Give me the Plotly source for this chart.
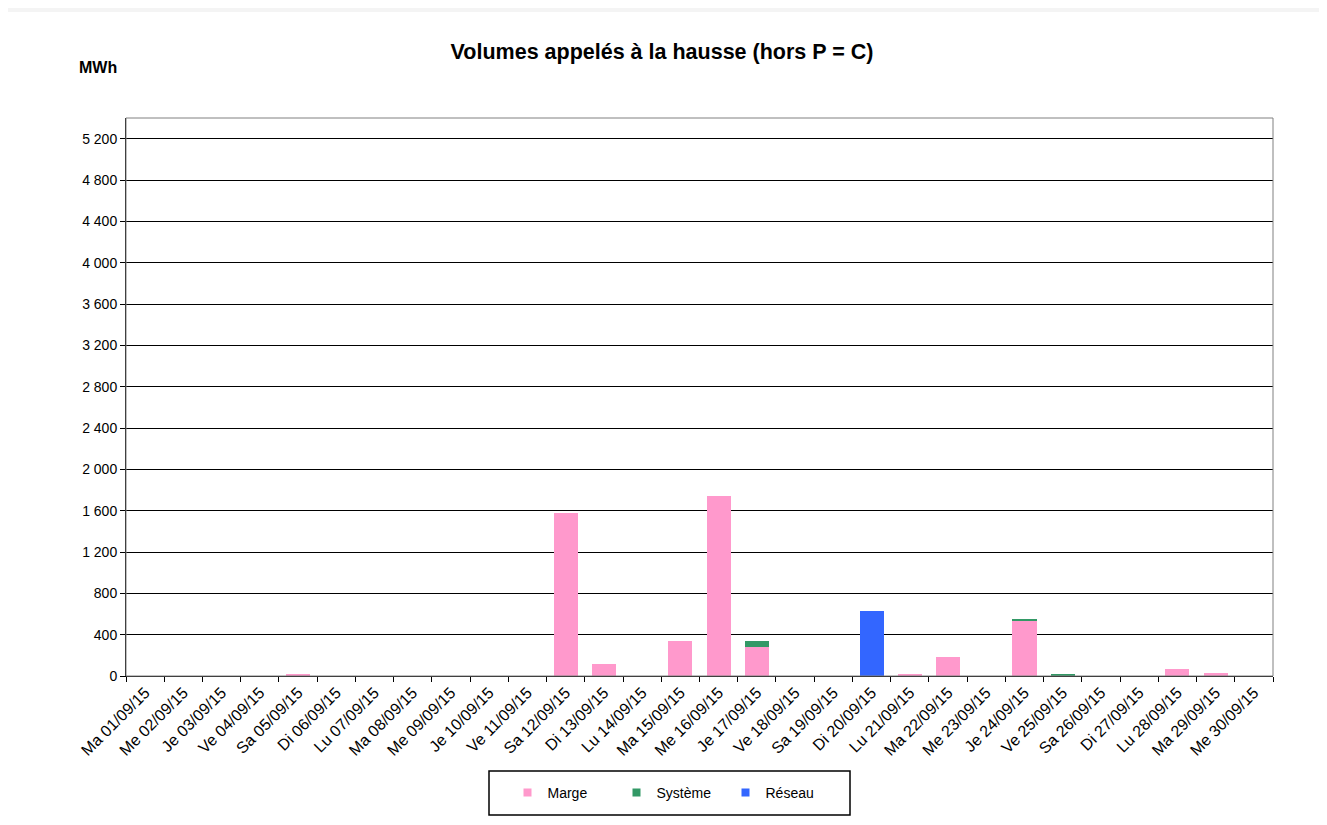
import plotly.graph_objects as go

day_names = ["Ma", "Me", "Je", "Ve", "Sa", "Di", "Lu"]
days = [f"{day_names[i % 7]} {i + 1:02d}/09/15" for i in range(30)]

marge = [0, 0, 0, 0, 10, 0, 0, 0, 0, 0, 0, 1580, 120, 0, 340, 1745, 280, 0, 0, 0,
         15, 180, 0, 540, 0, 0, 0, 65, 30, 0]
systeme = [0, 0, 0, 0, 0, 0, 0, 0, 0, 0, 0, 0, 0, 0, 0, 0, 60, 0, 0, 0,
           0, 0, 0, 15, 15, 0, 0, 0, 0, 0]
reseau = [0, 0, 0, 0, 0, 0, 0, 0, 0, 0, 0, 0, 0, 0, 0, 0, 0, 0, 0, 630,
          0, 0, 0, 0, 0, 0, 0, 0, 0, 0]

series = [("Marge", marge, "#ff99cc"), ("Système", systeme, "#339966"), ("Réseau", reseau, "#3366ff")]

# The page body has an 8px margin; figure coordinates are page coordinates minus 8.
OFF = 8
W, H = 1327 - OFF, 825 - OFF
L, R, T, B = 126, 1273, 118, 676  # plot area in page coordinates


def px(x):
    return (x - L) / (R - L)


def py(y):
    return (B - y) / (B - T)


fig = go.Figure()
for name, vals, col in series:
    fig.add_trace(go.Bar(x=days, y=vals, name=name, showlegend=False,
                         marker=dict(color=col, line=dict(width=0))))
for name, vals, col in series:
    fig.add_trace(go.Scatter(x=[None], y=[None], name=name, mode="markers",
                             marker=dict(symbol="square", size=8, color=col)))

fig.update_layout(
    width=W, height=H,
    barmode="stack", bargap=0.37,
    margin=dict(l=L - OFF, r=W - (R - OFF), t=T - OFF, b=H - (B - OFF), pad=0),
    paper_bgcolor="#f4f4f4", plot_bgcolor="white",
    separators=", ",
    font=dict(family="Liberation Sans, Arial", size=12, color="black"),
    title=dict(text="<b>Volumes appelés à la hausse (hors P = C)</b>", x=px(662), xanchor="center",
               xref="paper", y=1 - (51 - OFF) / H, yanchor="middle", font=dict(size=21.5)),
    showlegend=True,
    legend=dict(orientation="h", x=px(671), xanchor="center", y=py(793), yanchor="middle",
                borderwidth=0, bgcolor="rgba(0,0,0,0)", traceorder="normal",
                font=dict(size=14), entrywidth=64, itemwidth=30),
    shapes=[
        dict(type="rect", xref="paper", yref="paper", x0=px(7), x1=px(1320), y0=py(830), y1=py(12),
             fillcolor="white", line=dict(width=0), layer="below"),
        dict(type="rect", xref="paper", yref="paper", x0=0, x1=1, y0=0, y1=1,
             line=dict(color="#808080", width=1), fillcolor="rgba(0,0,0,0)", layer="above"),
        dict(type="rect", xref="paper", yref="paper", x0=px(489), x1=px(850), y0=py(815), y1=py(771),
             line=dict(color="black", width=1.5), fillcolor="white", layer="below"),
    ],
    annotations=[
        dict(text="<b>MWh</b>", xref="paper", yref="paper", x=px(77), xanchor="left", y=py(67),
             yanchor="middle", showarrow=False, font=dict(size=16)),
    ],
)

fig.update_xaxes(
    type="category", tickangle=-45, tickson="boundaries", ticks="outside", ticklen=5,
    tickcolor="black", showline=True, linecolor="black", linewidth=1, showgrid=False,
    tickfont=dict(size=16),
)
fig.update_yaxes(
    range=[0, 5400], tickmode="array", tickvals=list(range(0, 5201, 400)), tickformat=",d",
    ticks="outside", ticklen=5, tickcolor="black", showline=True, linecolor="black", linewidth=1,
    showgrid=True, gridcolor="black", gridwidth=1, zeroline=False, tickfont=dict(size=14),
)

fig.write_html("out.html")
